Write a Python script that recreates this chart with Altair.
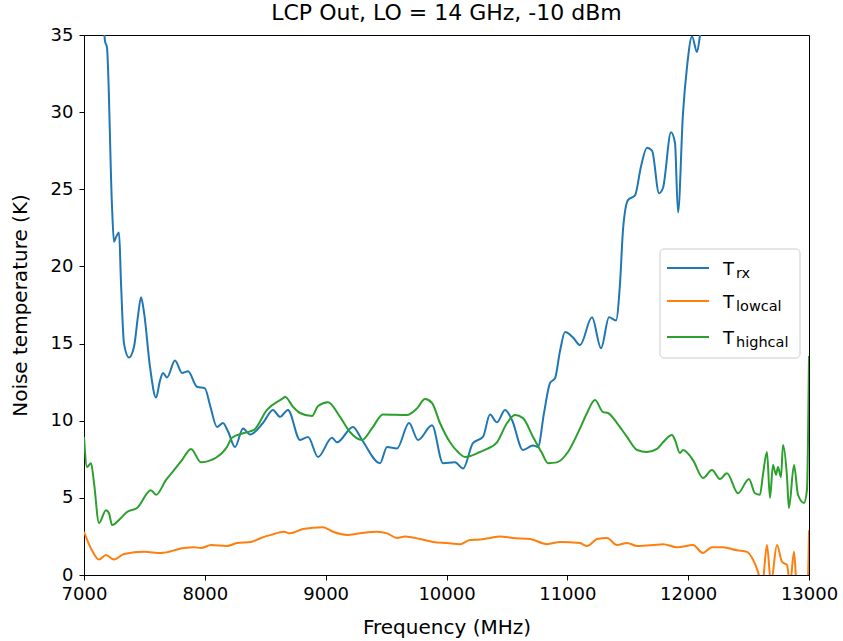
import altair as alt
import pandas as pd

# ---- data ----
trx_freq = [7149, 7174, 7190, 7232, 7248, 7265, 7290, 7306, 7331, 7372, 7414, 7447, 7472, 7497,
            7546, 7596, 7629, 7654, 7687, 7753, 7811, 7861, 7935, 8001, 8043, 8101, 8150, 8192,
            8250, 8316, 8374, 8481, 8564, 8622, 8688, 8788, 8854, 8937, 9052, 9094, 9226, 9301,
            9450, 9508, 9590, 9690, 9764, 9880, 9971, 10070, 10137, 10219, 10302, 10360, 10418,
            10484, 10542, 10633, 10716, 10757, 10807, 10857, 10898, 10939, 10981, 11047, 11105,
            11204, 11279, 11345, 11403, 11436, 11461, 11502, 11560, 11610, 11659, 11701, 11759,
            11792, 11858, 11891, 11916, 11957, 11990, 12032, 12073, 12098, 12140]
trx_vals = [38.0, 34.6, 34.2, 23.85, 21.6, 21.9, 22.2, 19.0, 15.0, 14.1, 14.8, 16.8, 18.0, 17.0,
            13.5, 11.5, 12.6, 13.1, 12.8, 13.9, 13.1, 13.2, 12.2, 12.1, 11.0, 9.6, 9.85, 9.3,
            8.3, 9.5, 9.1, 9.85, 10.7, 10.25, 10.7, 8.75, 8.95, 7.65, 8.9, 8.6, 9.6, 8.75,
            7.25, 8.3, 8.2, 9.85, 8.75, 9.7, 7.25, 7.3, 6.9, 8.55, 8.95, 10.4, 9.9,
            10.7, 10.05, 8.1, 8.4, 8.3, 10.5, 12.45, 12.75, 14.5, 15.75, 15.4, 14.9,
            16.7, 14.7, 16.7, 16.5, 18.9, 22.4, 24.3, 24.6, 26.5, 27.7, 27.5, 24.75,
            25.1, 28.7, 28.0, 23.5, 29.9, 32.9, 34.9, 33.9, 35.0, 38.0]

low_freq = [7000, 7025, 7066, 7124, 7182, 7248, 7331, 7497, 7637, 7828, 7910, 7968, 8051, 8183,
            8266, 8382, 8465, 8548, 8655, 8705, 8812, 8978, 9061, 9177, 9284, 9425, 9508, 9590,
            9657, 9781, 9888, 10004, 10112, 10194, 10277, 10360, 10443, 10550, 10691, 10832,
            10939, 11105, 11163, 11246, 11328, 11411, 11494, 11577, 11709, 11792, 11908, 12040,
            12122, 12197, 12288, 12404, 12487, 12536, 12578, 12611, 12652, 12685, 12735, 12777,
            12818, 12843, 12876, 12901, 12967, 12990, 13000]
low_vals = [2.8, 2.3, 1.6, 1.0, 1.3, 1.0, 1.36, 1.5, 1.43, 1.75, 1.8, 1.75, 1.94, 1.88,
            2.07, 2.14, 2.4, 2.6, 2.8, 2.7, 2.98, 3.1, 2.8, 2.6, 2.7, 2.8, 2.7, 2.4,
            2.5, 2.33, 2.14, 2.07, 2.0, 2.27, 2.3, 2.4, 2.5, 2.4, 2.33, 2.0,
            2.14, 2.07, 1.88, 2.33, 2.4, 1.94, 2.07, 1.88, 1.94, 2.0, 1.8, 1.94,
            1.43, 1.8, 1.8, 1.6, 1.5, 1.0, 0.2, -0.8, 1.94, -0.5, 1.94, 0.85,
            0.65, -0.6, 1.5, -1.0, -1.0, -0.5, 2.9]

high_freq = [7000, 7025, 7058, 7083, 7124, 7182, 7207, 7232, 7306, 7356, 7439, 7554, 7596, 7679,
             7745, 7811, 7886, 7968, 8051, 8092, 8183, 8225, 8324, 8407, 8514, 8655, 8663, 8730,
             8788, 8887, 8937, 9019, 9119, 9201, 9301, 9383, 9474, 9673, 9756, 9822, 9880, 9946,
             10029, 10095, 10153, 10277, 10335, 10418, 10501, 10567, 10633, 10716, 10790, 10840,
             10914, 11005, 11105, 11163, 11229, 11295, 11336, 11411, 11494, 11577, 11659, 11742,
             11792, 11866, 11891, 11932, 11957, 12040, 12122, 12197, 12263, 12321, 12412, 12503,
             12553, 12594, 12619, 12652, 12677, 12702, 12727, 12743, 12768, 12785, 12818, 12834,
             12876, 12909, 12959, 12983, 13000]
high_vals = [8.95, 7.0, 7.25, 5.96, 3.37, 4.2, 4.0, 3.24, 3.7, 4.08, 4.34, 5.5, 5.2, 6.16,
             6.8, 7.45, 8.17, 7.3, 7.45, 7.6, 8.3, 8.9, 9.2, 9.4, 10.7, 11.5, 11.55, 10.9,
             10.5, 10.3, 10.95, 11.2, 10.25, 9.27, 8.75, 9.5, 10.4, 10.37, 10.8, 11.4, 11.15, 9.85,
             8.6, 7.97, 7.65, 7.97, 8.17, 8.6, 9.85, 10.37, 10.17, 8.95, 7.9, 7.25,
             7.3, 7.97, 9.5, 10.5, 11.34, 10.56, 10.5, 9.85, 8.95, 8.1, 7.97, 8.17,
             8.6, 9.07, 8.75, 7.9, 8.1, 7.45, 6.29, 6.8, 6.22, 6.6, 5.3, 6.22,
             5.3, 5.2, 6.5, 7.97, 5.0, 7.13, 6.5, 7.0, 6.35, 8.42, 6.35, 4.34,
             7.13, 5.2, 4.67, 5.5, 14.2]

series_names = ["rx", "lowcal", "highcal"]
series_colors = ["#1f77b4", "#ff7f0e", "#2ca02c"]
x_ticks = [7000, 8000, 9000, 10000, 11000, 12000, 13000]
y_ticks = [0, 5, 10, 15, 20, 25, 30, 35]

FONT = "DejaVu Sans"

frames = [
    pd.DataFrame({"freq": trx_freq, "temp": trx_vals, "series": "rx"}),
    pd.DataFrame({"freq": low_freq, "temp": low_vals, "series": "lowcal"}),
    pd.DataFrame({"freq": high_freq, "temp": high_vals, "series": "highcal"}),
]

xscale = alt.Scale(domain=[7000, 13000], nice=False, zero=False)
yscale = alt.Scale(domain=[0, 35], nice=False)
cscale = alt.Scale(domain=series_names, range=series_colors)

xaxis = alt.Axis(values=x_ticks, title="Frequency (MHz)", format="d", grid=False,
                 tickSize=5, labelPadding=5, titlePadding=14, labelFlush=False)
yaxis = alt.Axis(values=y_ticks, title="Noise temperature (K)", grid=False,
                 tickSize=5, labelPadding=6, titlePadding=20, labelFlush=False)

layers = []
for i, df in enumerate(frames):
    layers.append(
        alt.Chart(df).mark_line(strokeWidth=2, clip=True, interpolate="monotone").encode(
            x=alt.X("freq:Q", scale=xscale, axis=xaxis),
            y=alt.Y("temp:Q", scale=yscale, axis=yaxis),
            color=alt.Color("series:N", scale=cscale, legend=None),
        )
    )

# ---- hand-built legend (subscripted labels) ----
legend_box = alt.Chart(pd.DataFrame({"a": [0]})).mark_rect(
    fill="white", fillOpacity=0.8, stroke="#cccccc", strokeWidth=1, cornerRadius=4
).encode(x=alt.value(576), x2=alt.value(716), y=alt.value(214), y2=alt.value(323))
layers.append(legend_box)

rows_y = [233, 266, 302]
for name, col, yy in zip(series_names, series_colors, rows_y):
    d = pd.DataFrame({"series": [name]})
    layers.append(alt.Chart(d).mark_rule(color=col, strokeWidth=2).encode(
        x=alt.value(583), x2=alt.value(625), y=alt.value(yy)))
    layers.append(alt.Chart(d).mark_text(text="T", font=FONT, fontSize=18, align="left",
                                         baseline="alphabetic", color="black").encode(
        x=alt.value(639), y=alt.value(yy + 7)))
    layers.append(alt.Chart(d).mark_text(font=FONT, fontSize=14.5, align="left",
                                         baseline="alphabetic", color="black").encode(
        x=alt.value(652), y=alt.value(yy + 10), text="series:N"))

chart = alt.layer(*layers).properties(
    width=725, height=540,
    background="white",
    title=alt.TitleParams("LCP Out, LO = 14 GHz, -10 dBm", font=FONT, fontSize=22,
                          fontWeight="normal", color="black", offset=1),
    autosize=alt.AutoSizeParams(type="none"),
    padding={"left": 84, "top": 35, "right": 34, "bottom": 66},
).configure_view(stroke="black", strokeWidth=1).configure_axis(
    labelFont=FONT, titleFont=FONT, labelFontSize=18, titleFontSize=20,
    labelColor="black", titleColor="black", titleFontWeight="normal",
    domainColor="black", tickColor="black", domainWidth=1, tickWidth=1,
)

chart.save("out.html", embed_options={"renderer": "svg", "actions": False})
